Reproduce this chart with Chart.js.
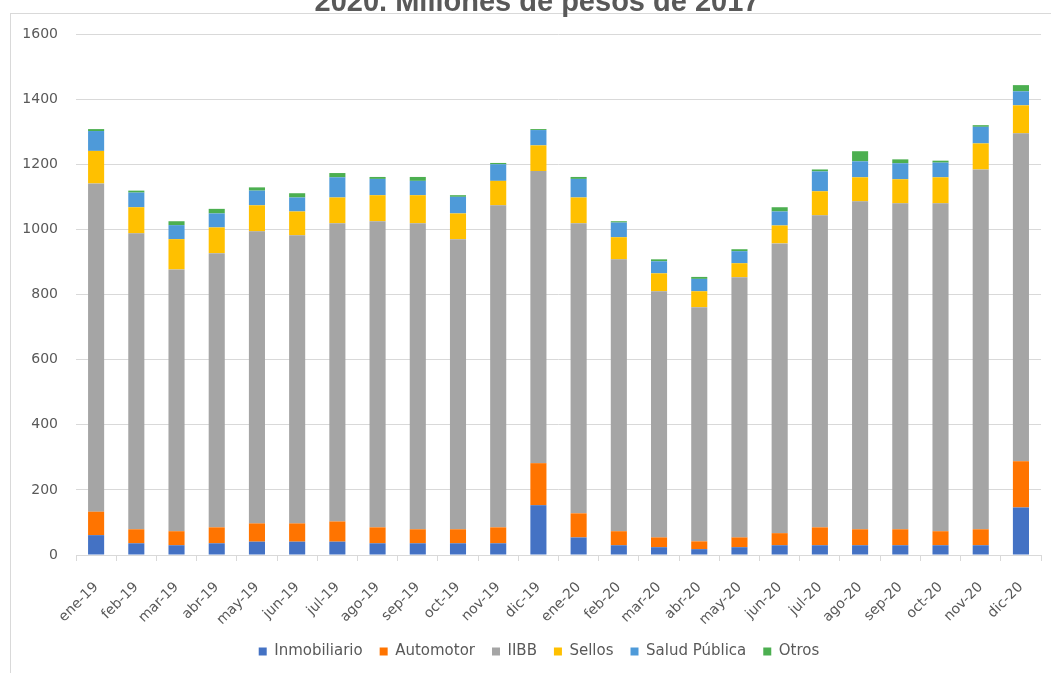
<!DOCTYPE html>
<html>
<head>
<meta charset="utf-8">
<script src="https://cdn.jsdelivr.net/npm/chart.js@4/dist/chart.umd.min.js"></script>
<style>
  html, body { margin: 0; padding: 0; background: #fff; overflow: hidden; }
  #wrap { position: relative; width: 1051px; height: 673px; }
  #frame { position: absolute; left: 10px; top: 13px; width: 1100px; height: 700px; border: 1px solid #d9d9d9; box-sizing: border-box; }
  canvas { position: absolute; left: 0; top: 0; }
</style>
</head>
<body>
<div id="wrap">
  <div id="frame"></div>
  <canvas id="c" width="1051" height="673"></canvas>
</div>
<script>
const titleText = "2020. Millones de pesos de 2017";
const categories = ["ene-19","feb-19","mar-19","abr-19","may-19","jun-19","jul-19","ago-19","sep-19","oct-19","nov-19","dic-19",
                    "ene-20","feb-20","mar-20","abr-20","may-20","jun-20","jul-20","ago-20","sep-20","oct-20","nov-20","dic-20"];
const seriesNames = ["Inmobiliario","Automotor","IIBB","Sellos","Salud Pública","Otros"];
const inmobiliario = [61,36,30,36,41,41,41,36,36,36,36,153,54,30,24,18,24,30,30,30,30,30,30,146];
const automotor    = [72,43,43,49,56,56,62,49,43,43,49,129,74,43,30,24,30,37,55,49,49,43,49,142];
const iibb         = [1008,909,804,842,897,885,916,940,940,891,989,897,891,835,756,719,799,890,958,1007,1001,1007,1105,1007];
const sellos       = [100,80,93,79,80,73,79,80,86,79,75,79,79,68,55,49,43,55,74,74,74,80,80,86];
const saludPublica = [61,45,43,43,45,43,62,50,44,51,51,47,57,45,37,38,37,43,61,49,49,45,51,43];
const otros        = [6,6,12,14,10,13,13,6,12,5,4,3,6,4,6,6,6,13,6,31,12,6,5,19];
const yTicks = [0,200,400,600,800,1000,1200,1400,1600];

const colors = ["#4472C4","#FF7400","#A5A5A5","#FFC000","#4E9AD9","#4CAF50"];
const seriesData = [inmobiliario, automotor, iibb, sellos, saludPublica, otros];

const titlePlugin = {
  id: 'clippedTitle',
  afterLayout(chart) {
    chart.legend.left += 18;
    chart.legend.right += 18;
  },
  afterDraw(chart) {
    const ctx = chart.ctx;
    ctx.save();
    ctx.font = "bold 29px 'Liberation Sans', Arial, sans-serif";
    ctx.fillStyle = "#595959";
    ctx.textAlign = "center";
    ctx.textBaseline = "alphabetic";
    ctx.fillText(titleText, 537, 11);
    ctx.restore();
  }
};

const FONT = "'DejaVu Sans', sans-serif";

new Chart(document.getElementById('c'), {
  type: 'bar',
  data: {
    labels: categories,
    datasets: seriesNames.map((n, i) => ({
      label: n,
      data: seriesData[i],
      backgroundColor: colors[i],
      borderWidth: 0,
      categoryPercentage: 1.0,
      barPercentage: 0.4
    }))
  },
  options: {
    responsive: false,
    animation: false,
    devicePixelRatio: 1,
    layout: { padding: { left: 0, right: 9, top: 34, bottom: 4 } },
    plugins: {
      legend: {
        position: 'bottom',
        labels: {
          boxWidth: 8, boxHeight: 8, padding: 17,
          color: '#595959',
          font: { family: FONT, size: 15 }
        }
      },
      tooltip: { enabled: false },
      title: { display: false }
    },
    scales: {
      x: {
        stacked: true,
        grid: { display: true, drawOnChartArea: false, drawTicks: true, tickLength: 6, color: '#d9d9d9', offset: true },
        border: { display: true, color: '#d9d9d9' },
        ticks: { color: '#595959', font: { family: FONT, size: 14 }, minRotation: 45, maxRotation: 45, padding: 18, autoSkip: false },
        afterFit(scale) { scale.height = 72; }
      },
      y: {
        stacked: true,
        min: 0, max: 1600,
        afterBuildTicks(scale) { scale.ticks = yTicks.map(v => ({ value: v })); },
        grid: { color: '#d9d9d9', drawTicks: false },
        border: { display: false },
        ticks: { color: '#595959', font: { family: FONT, size: 14 }, padding: 18, callback: v => String(v) },
        afterFit(scale) { scale.width = 76; }
      }
    }
  },
  plugins: [titlePlugin]
});
</script>
</body>
</html>
